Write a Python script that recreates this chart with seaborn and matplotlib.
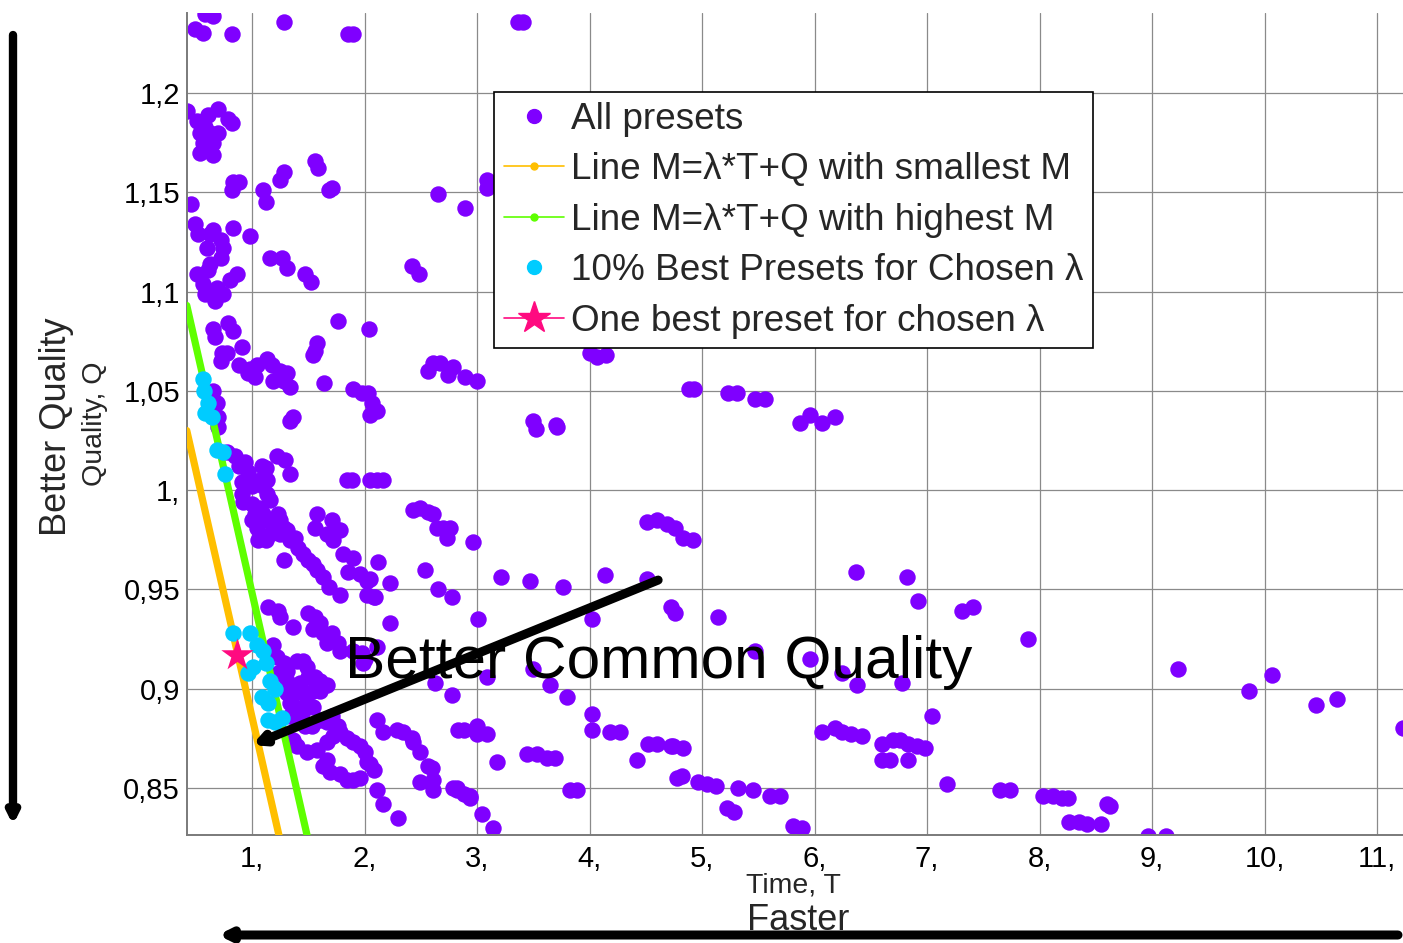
import matplotlib
matplotlib.use("Agg")
import matplotlib.pyplot as plt
import seaborn as sns
import pandas as pd
from matplotlib.lines import Line2D

# ---------------- data ----------------
preset_T = [
    0.58, 0.65, 0.49, 0.56, 0.82, 1.28, 1.85, 1.90, 3.36, 3.41,
    0.42, 0.51, 0.70, 0.79, 0.82, 0.61, 0.54, 0.63, 0.70, 0.56, 0.65, 0.54, 0.65, 0.58,
    0.83, 0.88, 0.82, 1.10, 1.12, 1.25, 1.28, 1.56, 1.59, 1.68, 1.71, 2.65, 2.89, 3.09, 3.09,
    0.46, 0.49, 0.52, 0.63, 0.65, 0.72, 0.74, 0.72, 0.60, 0.83, 0.98, 0.63, 0.61, 0.51, 0.56,
    0.58, 0.69, 0.74, 0.80, 0.87, 1.16, 1.27, 1.31, 1.47, 1.52, 2.42, 2.48,
    0.67, 0.65, 0.67, 0.79, 0.83, 0.91, 0.73, 0.78, 0.72, 0.88, 0.96, 0.98, 1.04, 1.13, 1.18,
    1.25, 1.31, 1.28, 1.34, 1.19, 1.03, 1.58, 1.56, 1.54, 1.76, 2.04, 1.64, 1.90, 1.98, 2.03,
    2.07, 2.11, 2.05, 1.36, 1.34, 2.56, 2.61, 2.67, 2.74, 2.79, 2.89, 3.00, 0.65, 0.69, 0.70,
    0.70, 3.50, 3.52, 3.70, 3.71, 4.00, 4.07, 4.15, 4.88, 4.93, 5.23, 5.31, 5.47, 5.56, 5.87,
    5.96, 6.07, 6.18,
    0.78, 0.85, 0.94, 0.88, 0.96, 1.09, 1.12, 1.13, 1.10, 1.07, 1.03, 1.00, 0.91, 0.91, 0.92,
    1.00, 1.03, 1.07, 1.13, 1.16, 1.10, 1.13, 1.04, 1.00, 1.23, 1.25, 1.28, 1.31, 1.25, 1.20,
    1.16, 1.12, 1.05, 1.34, 1.38, 1.41, 1.45, 1.50, 1.54, 1.58, 1.63, 1.68, 1.78, 1.28, 1.58,
    1.56, 1.71, 1.76, 1.78, 1.67, 1.72, 1.81, 1.90, 1.85, 1.96, 2.02, 2.12, 2.23, 2.02, 2.09,
    2.43, 2.49, 2.56, 2.61, 2.64, 2.70, 2.76, 2.73, 2.96, 2.54, 2.65, 2.78, 1.22, 1.29, 1.34,
    1.84, 1.89, 2.05, 2.11, 2.16, 2.05, 2.08, 3.21, 3.47, 3.76, 4.14, 4.51, 4.60, 4.69, 4.76,
    4.83, 4.92, 4.51,
    1.14, 1.23, 1.25, 1.36, 1.50, 1.56, 1.60, 1.54, 1.63, 1.71, 1.67, 1.76, 1.78, 1.90, 1.98,
    2.00, 2.11, 2.23, 2.63, 2.78, 3.01, 1.19, 1.22, 1.28, 1.23, 1.31, 1.40, 1.45, 1.49, 1.31,
    1.34, 1.43, 1.50, 1.56, 1.60, 1.67, 1.60, 1.54, 1.45, 1.38, 1.31, 1.99, 4.02, 4.72, 4.76,
    3.09, 3.50, 3.65, 3.80, 5.14, 5.47, 5.96, 6.24, 6.38, 6.78, 6.37, 6.82, 6.92, 7.31, 7.41,
    7.90, 7.04, 9.23, 9.86, 10.07, 10.46, 10.64, 11.23,
    1.34, 1.38, 1.45, 1.49, 1.54, 1.34, 1.40, 1.47, 1.53, 1.60, 1.67, 1.71, 1.76, 1.78, 1.84,
    1.90, 1.96, 2.00, 2.02, 1.36, 1.40, 1.49, 1.58, 1.67, 1.72, 1.67, 1.63, 1.69, 1.78, 1.84,
    1.90, 1.96,
    2.11, 2.16, 2.29, 2.34, 2.42, 2.43, 2.49, 2.60, 2.49, 2.61, 2.82, 2.94, 3.04, 3.14, 2.05,
    2.08, 2.11, 2.16, 2.30, 2.83, 2.88, 3.00, 3.09, 2.82, 2.94, 3.00, 2.56, 2.61, 2.79, 2.88,
    3.18, 3.44, 3.53, 3.62, 3.69, 3.83, 3.89, 4.02, 4.02, 4.18, 4.27, 4.52, 4.60, 4.42, 4.72,
    4.74, 4.83, 4.78, 4.82, 4.96, 5.04, 5.12, 5.32, 5.45, 5.60, 5.69, 5.22, 5.28, 5.81, 5.89,
    6.07, 6.18, 6.24, 6.32, 6.42, 6.60, 6.70, 6.76, 6.83, 6.91, 6.98, 6.60, 6.67, 6.83, 7.18,
    7.65, 7.74, 8.03, 8.12, 8.20, 8.25, 8.60, 8.63, 8.26, 8.35, 8.42, 8.55, 8.96, 9.12,
]
preset_Q = [
    1.240, 1.239, 1.232, 1.230, 1.2296, 1.236, 1.2296, 1.2296, 1.2357, 1.2357,
    1.191, 1.186, 1.192, 1.187, 1.185, 1.189, 1.180, 1.180, 1.180, 1.175, 1.175, 1.170, 1.169, 1.183,
    1.155, 1.155, 1.151, 1.151, 1.145, 1.156, 1.160, 1.166, 1.162, 1.151, 1.152, 1.149, 1.142, 1.156, 1.152,
    1.144, 1.134, 1.129, 1.129, 1.131, 1.126, 1.122, 1.117, 1.122, 1.132, 1.128, 1.114, 1.111, 1.109, 1.104,
    1.099, 1.102, 1.099, 1.106, 1.109, 1.117, 1.117, 1.112, 1.109, 1.105, 1.113, 1.109,
    1.095, 1.081, 1.077, 1.084, 1.080, 1.072, 1.069, 1.069, 1.065, 1.063, 1.059, 1.061, 1.063, 1.066, 1.063,
    1.060, 1.059, 1.055, 1.052, 1.055, 1.057, 1.074, 1.070, 1.068, 1.085, 1.081, 1.054, 1.051, 1.049, 1.049,
    1.044, 1.040, 1.038, 1.037, 1.035, 1.060, 1.064, 1.064, 1.058, 1.062, 1.057, 1.055, 1.050, 1.044, 1.037,
    1.032, 1.035, 1.031, 1.033, 1.032, 1.069, 1.067, 1.068, 1.051, 1.051, 1.049, 1.049, 1.046, 1.046, 1.034,
    1.038, 1.034, 1.037,
    1.019, 1.017, 1.014, 1.012, 1.009, 1.012, 1.011, 1.005, 1.002, 1.005, 1.004, 1.002, 1.004, 0.998, 0.994,
    0.993, 0.988, 0.991, 0.998, 0.995, 0.988, 0.985, 0.981, 0.985, 0.988, 0.985, 0.981, 0.980, 0.978, 0.980,
    0.978, 0.975, 0.975, 0.975, 0.976, 0.971, 0.968, 0.965, 0.963, 0.960, 0.956, 0.951, 0.947, 0.965, 0.988,
    0.981, 0.985, 0.980, 0.980, 0.978, 0.975, 0.968, 0.966, 0.959, 0.958, 0.954, 0.964, 0.953, 0.947, 0.946,
    0.990, 0.991, 0.989, 0.988, 0.981, 0.981, 0.981, 0.976, 0.974, 0.960, 0.950, 0.946, 1.017, 1.015, 1.008,
    1.005, 1.005, 1.005, 1.005, 1.005, 0.955, 0.946, 0.956, 0.954, 0.951, 0.957, 0.984, 0.985, 0.983, 0.981,
    0.976, 0.975, 0.955,
    0.941, 0.939, 0.936, 0.931, 0.938, 0.936, 0.933, 0.930, 0.928, 0.928, 0.923, 0.923, 0.919, 0.919, 0.918,
    0.915, 0.921, 0.933, 0.903, 0.897, 0.935, 0.922, 0.916, 0.913, 0.908, 0.909, 0.914, 0.914, 0.911, 0.904,
    0.902, 0.903, 0.906, 0.906, 0.904, 0.902, 0.899, 0.899, 0.898, 0.898, 0.898, 0.913, 0.935, 0.941, 0.938,
    0.906, 0.910, 0.902, 0.896, 0.936, 0.919, 0.915, 0.908, 0.902, 0.903, 0.959, 0.956, 0.944, 0.939, 0.941,
    0.925, 0.886, 0.910, 0.899, 0.907, 0.892, 0.895, 0.880,
    0.893, 0.891, 0.889, 0.893, 0.891, 0.886, 0.884, 0.881, 0.881, 0.884, 0.883, 0.886, 0.881, 0.878, 0.875,
    0.873, 0.871, 0.868, 0.863, 0.874, 0.871, 0.868, 0.869, 0.873, 0.876, 0.864, 0.861, 0.858, 0.857, 0.854,
    0.854, 0.855,
    0.884, 0.878, 0.879, 0.878, 0.875, 0.873, 0.868, 0.860, 0.853, 0.849, 0.849, 0.845, 0.837, 0.830, 0.862,
    0.859, 0.849, 0.842, 0.835, 0.879, 0.879, 0.877, 0.877, 0.850, 0.846, 0.881, 0.861, 0.854, 0.850, 0.847,
    0.863, 0.867, 0.867, 0.865, 0.865, 0.849, 0.849, 0.887, 0.879, 0.878, 0.878, 0.872, 0.872, 0.864, 0.871,
    0.871, 0.870, 0.855, 0.856, 0.853, 0.852, 0.851, 0.850, 0.849, 0.846, 0.846, 0.840, 0.838, 0.831, 0.830,
    0.878, 0.880, 0.878, 0.877, 0.876, 0.872, 0.874, 0.874, 0.872, 0.871, 0.870, 0.864, 0.864, 0.864, 0.852,
    0.849, 0.849, 0.846, 0.846, 0.845, 0.845, 0.842, 0.841, 0.833, 0.833, 0.832, 0.832, 0.826, 0.826,
]

best_T = [0.56, 0.57, 0.61, 0.58, 0.64, 0.69, 0.74, 0.76,
          0.83, 0.98, 1.04, 1.10, 1.12, 1.01, 0.96, 1.16, 1.20, 1.09, 1.14, 1.14, 1.20, 1.27]
best_Q = [1.056, 1.050, 1.044, 1.039, 1.037, 1.020, 1.019, 1.008,
          0.928, 0.928, 0.922, 0.919, 0.913, 0.911, 0.908, 0.904, 0.900, 0.896, 0.893, 0.884, 0.883, 0.885]

star_T = [0.87]
star_Q = [0.917]

line_min_T = [0.42, 1.24]
line_min_Q = [1.030, 0.826]
line_max_T = [0.42, 1.49]
line_max_Q = [1.093, 0.826]

x_ticks = [1, 2, 3, 4, 5, 6, 7, 8, 9, 10, 11]
x_tick_labels = ["1,", "2,", "3,", "4,", "5,", "6,", "7,", "8,", "9,", "10,", "11,"]
y_ticks = [0.85, 0.90, 0.95, 1.00, 1.05, 1.10, 1.15, 1.20]
y_tick_labels = ["0,85", "0,9", "0,95", "1,", "1,05", "1,1", "1,15", "1,2"]

legend_labels = ["All presets",
                 "Line M=\u03bb*T+Q with smallest M",
                 "Line M=\u03bb*T+Q with highest M",
                 "10% Best Presets for Chosen \u03bb",
                 "One best preset for chosen \u03bb"]

PURPLE = "#7F00FF"
ORANGE = "#FFBF00"
GREEN = "#5EFF00"
CYAN = "#00CCFF"
PINK = "#FF0A80"

# ---------------- figure ----------------
sns.set_style("white")
plt.rcParams["font.family"] = ["Liberation Sans", "DejaVu Sans"]

W, H = 1403, 943
fig = plt.figure(figsize=(W / 100, H / 100), dpi=100)
ax = fig.add_axes([187 / W, (H - 835) / H, (W - 187) / W, (835 - 13) / H])

df_p = pd.DataFrame({"T": preset_T, "Q": preset_Q})
sns.scatterplot(data=df_p, x="T", y="Q", ax=ax, color=PURPLE, s=140,
                linewidth=0, zorder=2, legend=False)

sns.lineplot(x=line_min_T, y=line_min_Q, ax=ax, color=ORANGE, lw=5.2, sort=False,
             estimator=None, zorder=3, legend=False, solid_capstyle="round")
sns.lineplot(x=line_max_T, y=line_max_Q, ax=ax, color=GREEN, lw=5.2, sort=False,
             estimator=None, zorder=3, legend=False, solid_capstyle="round")

sns.scatterplot(x=best_T, y=best_Q, ax=ax, color=CYAN, s=140, linewidth=0,
                zorder=4, legend=False)
sns.scatterplot(x=star_T, y=star_Q, ax=ax, color=PINK, s=600, marker="*",
                linewidth=0, zorder=5, legend=False)

ax.set_xlim(0.422, 11.231)
ax.set_ylim(0.8263, 1.2403)
ax.set_xticks(x_ticks)
ax.set_xticklabels(x_tick_labels)
ax.set_yticks(y_ticks)
ax.set_yticklabels(y_tick_labels)
ax.set_xlabel("")
ax.set_ylabel("")

ax.grid(True, color="#8a8a8a", lw=0.9)
ax.set_axisbelow(True)
for s in ["top", "right"]:
    ax.spines[s].set_visible(False)
for s in ["left", "bottom"]:
    ax.spines[s].set_color("#7a7a7a")
    ax.spines[s].set_linewidth(1.4)
ax.tick_params(axis="both", direction="in", length=7, width=1.3, colors="black",
               labelsize=21)
ax.tick_params(axis="x", pad=7)
ax.tick_params(axis="y", pad=5)

# legend
handles = [
    Line2D([], [], ls="none", marker="o", color=PURPLE, ms=10),
    Line2D([], [], color=ORANGE, lw=1.2, marker="o", ms=5),
    Line2D([], [], color=GREEN, lw=1.2, marker="o", ms=5),
    Line2D([], [], ls="none", marker="o", color=CYAN, ms=10),
    Line2D([], [], color=PINK, lw=1.2, marker="*", ms=24),
]
leg = ax.legend(handles, legend_labels, loc="upper left",
                bbox_to_anchor=((494 - 187) / (W - 187), 1 - (92 - 13) / (835 - 13)),
                borderaxespad=0, fontsize=26.6, frameon=True, fancybox=False,
                edgecolor="black", framealpha=1, handlelength=1.64,
                handletextpad=0.19, labelspacing=0.42, borderpad=0.26)
leg.get_frame().set_linewidth(1.2)

# annotation
ax.text(1.827, 0.9053, "Better Common Quality", fontsize=43.5, color="black",
        ha="left", va="baseline", zorder=6)
ax.annotate("", xy=(1.0, 0.8716), xytext=(4.61, 0.9547),
            arrowprops=dict(arrowstyle="-|>,head_length=0.6,head_width=0.3",
                            lw=6.5, color="black", shrinkA=0, shrinkB=0),
            zorder=7)

# outer labels and arrows
fig.text(793 / W, 1 - 886 / H, "Time, T", fontsize=20.5, ha="center", va="center")
fig.text(798 / W, 1 - 921 / H, "Faster", fontsize=26, ha="center", va="center")
fig.text(95 / W, 1 - 424 / H, "Quality, Q", fontsize=20.5, ha="center", va="center",
         rotation=90)
fig.text(57 / W, 1 - 427 / H, "Better Quality", fontsize=26, ha="center", va="center",
         rotation=90)

ax.annotate("", xy=(13, H - 825), xytext=(13, H - 35), xycoords="figure pixels",
            textcoords="figure pixels", annotation_clip=False,
            arrowprops=dict(arrowstyle="-|>,head_length=0.6,head_width=0.3",
                            lw=6, color="black", shrinkA=0, shrinkB=0))
ax.annotate("", xy=(218, H - 935), xytext=(1398, H - 935), xycoords="figure pixels",
            textcoords="figure pixels", annotation_clip=False,
            arrowprops=dict(arrowstyle="-|>,head_length=0.6,head_width=0.3",
                            lw=6.5, color="black", shrinkA=0, shrinkB=0))

fig.savefig("out.png", dpi=100)
